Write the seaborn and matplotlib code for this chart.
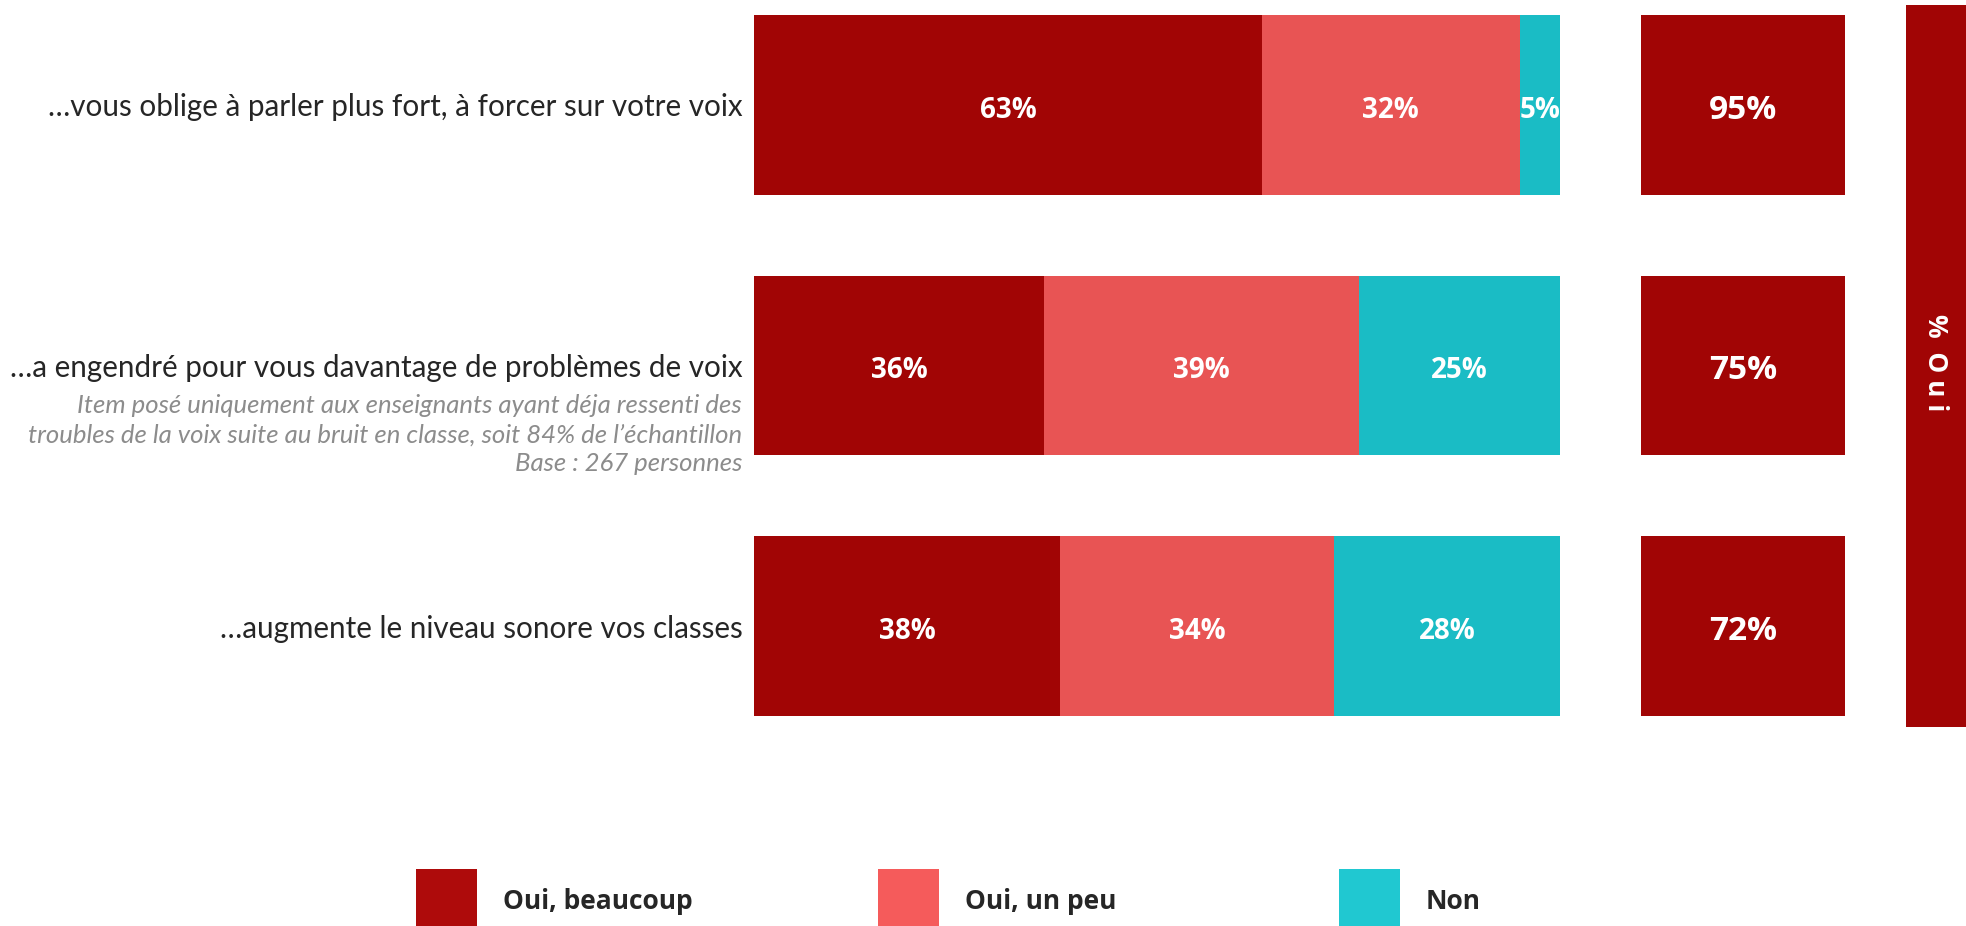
import numpy as np
import pandas as pd
import seaborn as sns
import matplotlib.pyplot as plt
from matplotlib.patches import Patch

# data
items = [
    "…vous oblige à parler plus fort, à forcer sur votre voix",
    "…a engendré pour vous davantage de problèmes de voix",
    "…augmente le niveau sonore vos classes",
]
beaucoup = [63, 36, 38]
un_peu = [32, 39, 34]
non = [5, 25, 28]
total_oui = [95, 75, 72]
series_names = ["Oui, beaucoup", "Oui, un peu", "Non"]
note_lines = [
    "Item posé uniquement aux enseignants ayant déja ressenti des",
    "troubles de la voix suite au bruit en classe, soit 84% de l’échantillon",
    "Base : 267 personnes",
]

c_dark, c_light, c_teal = "#A10505", "#E85454", "#1ABCC5"
leg_colors = ["#AE0B0B", "#F55B5B", "#20C8D1"]

W, H = 1966, 926
sns.set_style("white")
plt.rcParams["font.family"] = ["Lato", "DejaVu Sans"]

fig = plt.figure(figsize=(W / 100, H / 100), dpi=100)

def fx(px):
    return px / W

def fy(px):
    return 1 - px / H

df = pd.DataFrame({"item": items, "b": beaucoup, "u": un_peu, "n": non, "tot": total_oui})
df["cum_u"] = df["b"] + df["u"]
df["cum_n"] = df["cum_u"] + df["n"]
df["full"] = 1

# main stacked bars
ax = fig.add_axes([fx(754), fy(716), fx(1560 - 754), 701 / H])
for col, color in [("cum_n", c_teal), ("cum_u", c_light), ("b", c_dark)]:
    sns.barplot(data=df, x=col, y="item", order=items, color=color, orient="h",
                width=0.69, ax=ax, saturation=1, edgecolor="none")
ax.set_xlim(0, 100)
ax.set_ylim(2.345, -0.345)
ax.set_xlabel("")
ax.set_ylabel("")
ax.set_xticks([])
ax.tick_params(axis="y", length=0, pad=8, labelsize=21.3)
sns.despine(ax=ax, left=True, bottom=True)

for i, row in df.iterrows():
    starts = [0, row["b"], row["cum_u"]]
    for s, v in zip(starts, [row["b"], row["u"], row["n"]]):
        ax.text(s + v / 2, i + 0.02, f"{v}%", ha="center", va="center", color="white",
                fontsize=20, fontweight="bold", family="Open Sans")

# note under the second item
for k, line in enumerate(note_lines):
    ax.text(-12 / 806 * 100, 1.155 + k * 0.111, line, ha="right", va="center",
            color="#8C8C8C", fontsize=18.5, style="italic", clip_on=False)

# total "Oui" bars
ax2 = fig.add_axes([fx(1641), fy(716), fx(1845 - 1641), 701 / H])
sns.barplot(data=df, x="full", y="item", order=items, color=c_dark, orient="h",
            width=0.69, ax=ax2, saturation=1, edgecolor="none")
ax2.set_xlim(0, 1)
ax2.set_ylim(2.345, -0.345)
ax2.set_xlabel("")
ax2.set_ylabel("")
ax2.set_xticks([])
ax2.set_yticks([])
sns.despine(ax=ax2, left=True, bottom=True)
for i, v in enumerate(total_oui):
    ax2.text(0.5, i + 0.02, f"{v}%", ha="center", va="center", color="white",
             fontsize=24, fontweight="bold", family="Open Sans")

# side band
ax3 = fig.add_axes([fx(1906), fy(727), fx(60), 722 / H])
ax3.set_facecolor(c_dark)
ax3.set_xticks([])
ax3.set_yticks([])
for sp in ax3.spines.values():
    sp.set_visible(False)
ax3.text(0.5, 0.505, "%  O u i", rotation=270, ha="center", va="center", color="white",
         fontsize=19, fontweight="bold", family="Open Sans", transform=ax3.transAxes)

# legend
for name, color, x in zip(series_names, leg_colors, [416, 878, 1339]):
    fig.legend(handles=[Patch(facecolor=color, edgecolor="none")], labels=[name],
               loc="upper left", bbox_to_anchor=(fx(x), fy(869)), frameon=False,
               borderpad=0, borderaxespad=0, handlelength=2.3, handleheight=3.4,
               handletextpad=1.0, prop={"family": "Open Sans", "weight": "bold", "size": 19})

fig.savefig("out.png", dpi=100)
